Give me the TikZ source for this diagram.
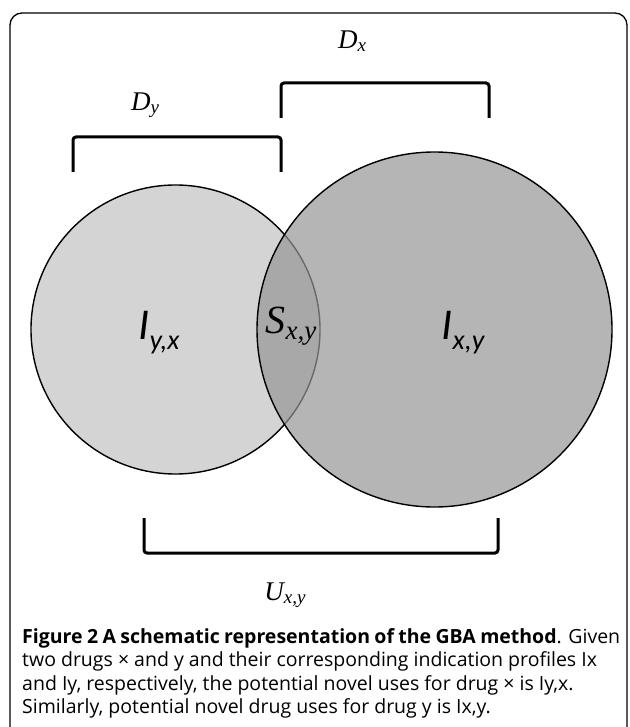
\documentclass[tikz,border=0pt]{standalone}
\usepackage{fontspec}
\setmainfont{Open Sans}
\newfontfamily\timesfont{Liberation Serif}
\newfontfamily\califont{Carlito}
\usetikzlibrary{positioning}
\definecolor{lightdisc}{gray}{0.83}
\definecolor{darkdisc}{gray}{0.59}

\begin{document}
\begin{tikzpicture}[
    x=1pt, y=-1pt,
    disc/.style={circle, draw, line width=1.4pt, inner sep=0pt},
    bracket/.style={line width=3pt, rounded corners=3pt},
    setname/.style={font=\timesfont\itshape\fontsize{27}{27}\selectfont, inner sep=0pt},
    profile/.style={font=\califont\itshape\fontsize{44}{44}\selectfont, inner sep=0pt}
  ]
    \useasboundingbox (0,0) rectangle (629,727);
    \draw[line width=1.3pt, rounded corners=12pt] (10,760) -- (10,13) -- (627,13) -- (627,760);

    \node[disc, fill=lightdisc, minimum size=289pt] (ydisc) at (175.5,329.5) {};
    \node[disc, fill=darkdisc, fill opacity=0.7, minimum size=355pt] (xdisc) at (434.5,329.5) {};

    \draw[bracket] (281,118) -- (281,83) -- (489,83) -- (489,118);
    \draw[bracket] (73,172) -- (73,137) -- (281,137) -- (281,172);
    \draw[bracket] (144,518) -- (144,553) -- (498,553) -- (498,518);

    \node[setname] (dx) at (352,41) {D\raisebox{-3pt}{\fontsize{19}{19}\selectfont x}};
    \node[setname] (dy) at (145,105) {D\raisebox{-3pt}{\fontsize{19}{19}\selectfont y}};
    \node[setname] (uxy) at (285,595) {U\raisebox{-3pt}{\fontsize{19}{19}\selectfont x,y}};

    \node[profile] (iyx) at (159,333) {I\raisebox{-10pt}{\fontsize{28}{28}\selectfont y,x}};
    \node[profile] (ixy) at (463,333) {I\raisebox{-10pt}{\fontsize{28}{28}\selectfont x,y}};
    \node[inner sep=0pt, font=\timesfont\itshape\fontsize{40}{40}\selectfont] (sxy) at (291,326)
      {S\raisebox{-6pt}{\fontsize{27}{27}\selectfont x,y}};

    \node[anchor=north west, align=left, inner sep=0pt, font=\fontsize{19.5}{23.5}\selectfont] (caption) at (22,628)
      {\makebox[598pt][s]{\textbf{Figure 2 A schematic representation of the GBA method}. Given}\\
       two drugs × and y and their corresponding indication profiles Ix\\
       and Iy, respectively, the potential novel uses for drug × is Iy,x.\\
       Similarly, potential novel drug uses for drug y is Ix,y.};
  \end{tikzpicture}
\end{document}
